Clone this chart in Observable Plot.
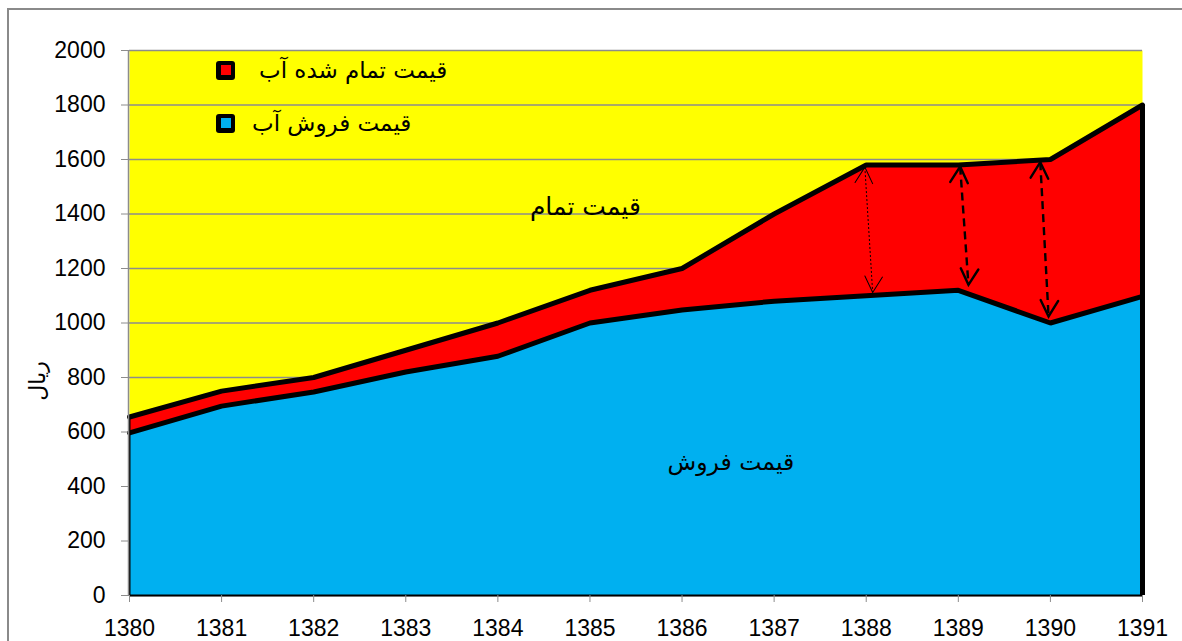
<!DOCTYPE html>
<html>
<head>
<meta charset="utf-8">
<script src="https://cdn.jsdelivr.net/npm/d3@7"></script>
<script src="https://cdn.jsdelivr.net/npm/@observablehq/plot@0.6"></script>
<style>
  html, body { margin: 0; padding: 0; background: #fff; }
  #wrap { position: relative; width: 1182px; height: 641px; overflow: hidden; background: #fff; }
  #border { position: absolute; left: 7px; top: 8px; width: 1180px; height: 700px; border: 2px solid #8a8a8a; box-sizing: border-box; pointer-events: none; }
  #chart { position: absolute; left: 0; top: 0; }
  .leg { position: absolute; display: flex; align-items: center; font-family: "DejaVu Sans", sans-serif; font-size: 23px; color: #000; }
  .sw { width: 19px; height: 19px; background: #000; border-radius: 3px; display: flex; align-items: center; justify-content: center; }
  .sw span { display: block; width: 10px; height: 10px; }
</style>
</head>
<body>
<div id="wrap">
  <div id="chart"></div>
  <div id="border"></div>
</div>
<script>
// ---- data ----
const years = [1380, 1381, 1382, 1383, 1384, 1385, 1386, 1387, 1388, 1389, 1390, 1391];
const costPrice = [655, 750, 800, 900, 1000, 1120, 1200, 1400, 1580, 1580, 1600, 1800]; // قیمت تمام شده آب
const salePrice = [597, 695, 747, 820, 878, 1000, 1048, 1080, 1100, 1120, 1000, 1098]; // قیمت فروش آب
const yTicks = [0, 200, 400, 600, 800, 1000, 1200, 1400, 1600, 1800, 2000];
const seriesNames = ["قیمت تمام شده آب", "قیمت فروش آب"];
const seriesColors = ["#ff0000", "#00b0f0"];
const yLabel = "ریال";
const areaLabels = [
  {text: "قیمت تمام", year: 1384.95, value: 1425, size: 25},
  {text: "قیمت فروش", year: 1386.53, value: 488, size: 23.5}
];
const gapArrows = [
  {x1: 1387.985, top: 1572, x2: 1388.07, bottom: 1112, width: 1, dash: "2,2"},
  {x1: 1389.02, top: 1574, x2: 1389.11, bottom: 1140, width: 2.4, dash: "8,5"},
  {x1: 1389.89, top: 1590, x2: 1389.98, bottom: 1024, width: 2.4, dash: "8,5"}
];

const rows = years.map((y, i) => ({year: y, cost: costPrice[i], sale: salePrice[i]}));
const first = years[0], last = years[years.length - 1];

// layout
const W = 1182, H = 641, mL = 129, mR = 40, mT = 50, mB = 46;
const pxX = (W - mL - mR) / (last - first);
const pxY = (H - mT - mB) / 2000;

// arrowheads at both ends of each gap arrow (rotation from pixel direction)
const heads = gapArrows.flatMap(a => {
  const ang = Math.atan2((a.x2 - a.x1) * pxX, (a.top - a.bottom) * pxY) * 180 / Math.PI;
  return [
    {x: a.x1, y: a.top, rot: ang, width: a.width},
    {x: a.x2, y: a.bottom, rot: ang + 180, width: a.width}
  ];
});
// V-shaped open head, tip at the anchor, pointing "up" before rotation
const vHead = {
  draw(context, l) {
    const w = l * 0.55;
    context.moveTo(-w, l);
    context.lineTo(0, 0);
    context.lineTo(w, l);
  }
};

const arrowShafts = gapArrows.map(a =>
  Plot.link([a], {x1: "x1", y1: "top", x2: "x2", y2: "bottom", stroke: "#000",
    strokeWidth: a.width, strokeDasharray: a.dash})
);
const arrowHeads = [1, 2.4].map(w =>
  Plot.vector(heads.filter(h => h.width === w), {x: "x", y: "y", rotate: "rot", length: 16, anchor: "start",
    shape: vHead, stroke: "#000", strokeWidth: w, fill: "none", strokeLinejoin: "miter"})
);

const chart = Plot.plot({
  width: W,
  height: H,
  marginLeft: mL,
  marginRight: mR,
  marginTop: mT,
  marginBottom: mB,
  style: {fontFamily: "'Liberation Sans', Arial, sans-serif", fontSize: "23px", color: "#000", background: "transparent", overflow: "visible"},
  x: {domain: [first, last], label: null},
  y: {domain: [0, 2000], label: null},
  length: {type: "identity"},
  marks: [
    Plot.frame({fill: "#ffff00", stroke: null}),
    Plot.ruleY(yTicks, {stroke: "#8c8c8c", strokeWidth: 1.6}),
    Plot.areaY(rows, {x: "year", y: "cost", fill: seriesColors[0]}),
    Plot.areaY(rows, {x: "year", y: "sale", fill: seriesColors[1]}),
    Plot.lineY(rows, {x: "year", y: "cost", stroke: "#000", strokeWidth: 5, strokeLinejoin: "miter"}),
    Plot.lineY(rows, {x: "year", y: "sale", stroke: "#000", strokeWidth: 5, strokeLinejoin: "miter"}),
    Plot.ruleX([last], {y1: 0, y2: costPrice[costPrice.length - 1], stroke: "#000", strokeWidth: 5}),
    Plot.ruleX([first], {y1: 0, y2: costPrice[0], stroke: "#000", strokeWidth: 2}),
    Plot.ruleY([0], {stroke: "#000", strokeWidth: 2}),
    ...arrowShafts,
    ...arrowHeads,
    Plot.text(areaLabels, {x: "year", y: "value", text: "text", fontFamily: "'DejaVu Sans', sans-serif", fontSize: d => d.size, fill: "#000"}),
    Plot.axisY({ticks: yTicks, tickSize: 8, tickPadding: 16, stroke: "#8c8c8c", fill: "#000", label: null, tickFormat: d => String(d)}),
    Plot.axisX({ticks: years, tickSize: 7, tickPadding: 17, stroke: "#8c8c8c", fill: "#000", label: null, tickFormat: d => String(d)}),
    Plot.ruleX([first], {stroke: "#8c8c8c", strokeWidth: 1.5, y1: 0, y2: 2000, dx: -1}),
    Plot.text([yLabel], {frameAnchor: "left", dx: -92, rotate: -90, text: d => d, fontFamily: "'DejaVu Sans', sans-serif", fontSize: 22, fill: "#000", y: [715]})
  ]
});
document.getElementById("chart").appendChild(chart);

// legend (inside plot area, top-left)
const wrap = document.getElementById("wrap");
const legendTops = [57, 110];
const legendGaps = [24, 17];
seriesNames.forEach((name, i) => {
  const el = document.createElement("div");
  el.className = "leg";
  el.style.left = "216px";
  el.style.top = legendTops[i] + "px";
  el.innerHTML = `<div class="sw" style="margin-right:${legendGaps[i]}px"><span style="background:${seriesColors[i]}"></span></div><span dir="rtl">${name}</span>`;
  wrap.appendChild(el);
});
</script>
</body>
</html>
